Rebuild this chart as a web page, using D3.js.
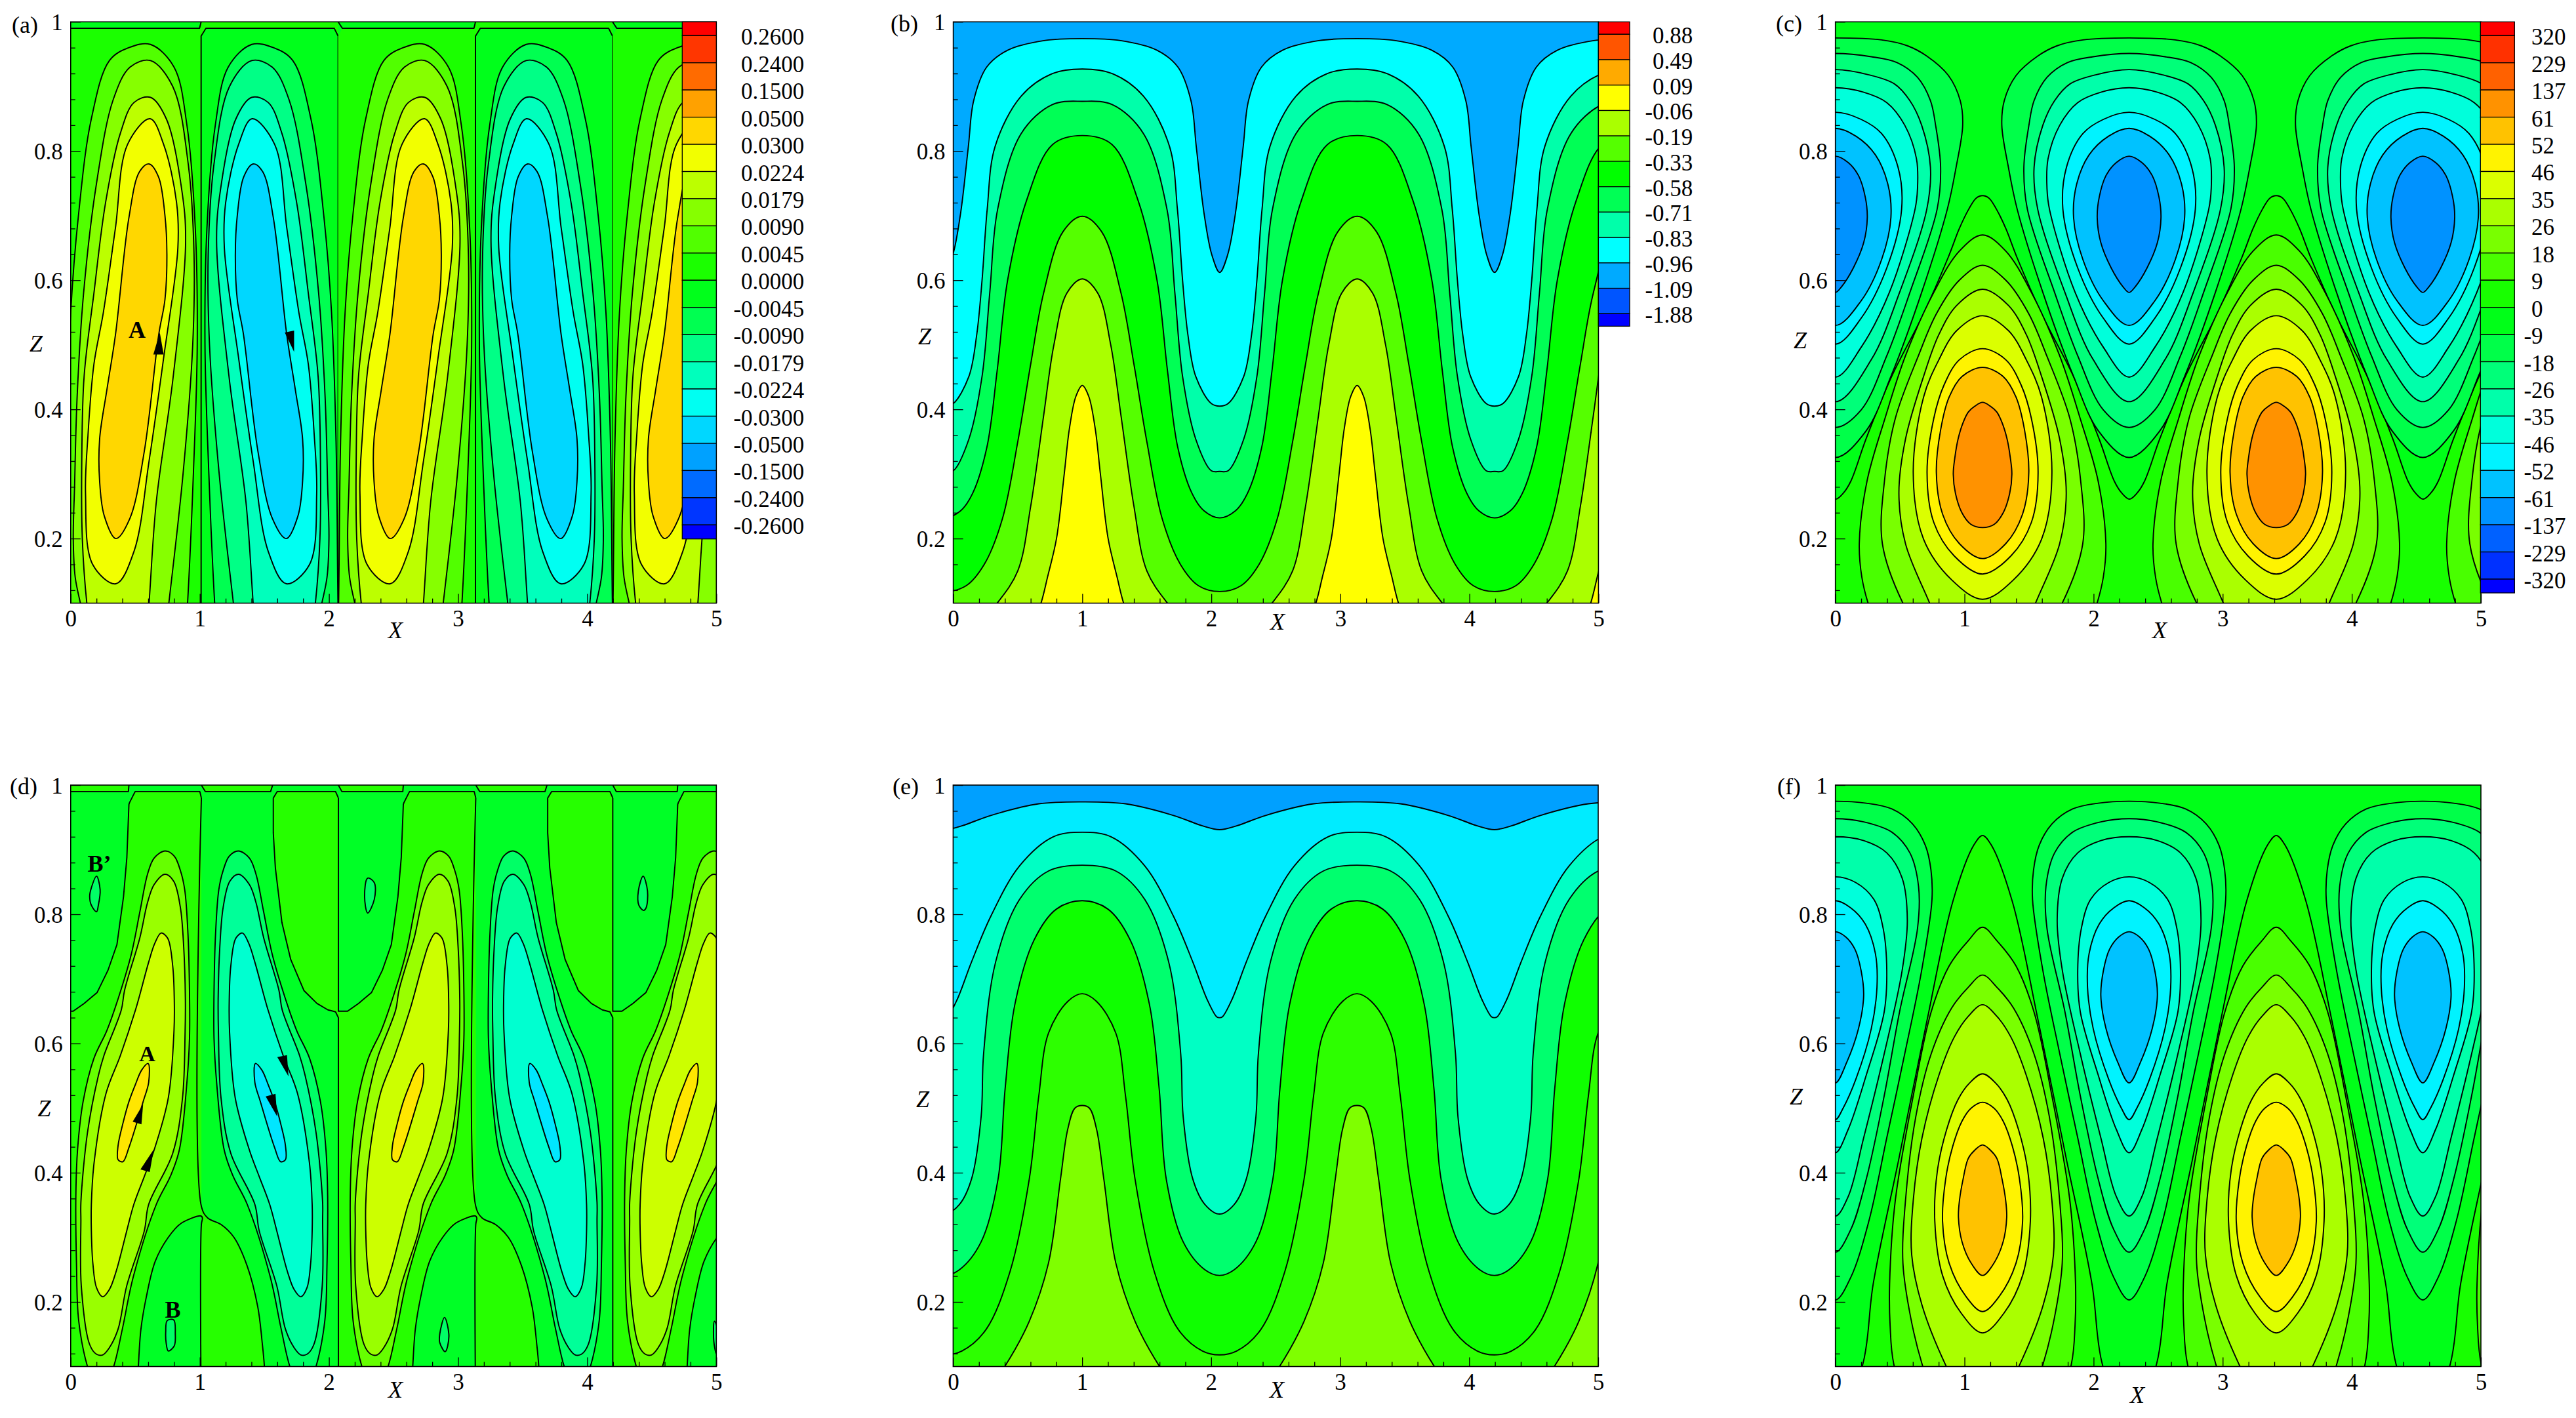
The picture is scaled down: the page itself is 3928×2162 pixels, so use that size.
<!DOCTYPE html>
<html>
<head>
<meta charset="utf-8">
<script src="https://cdn.jsdelivr.net/npm/d3@7"></script>
<style>
  body { margin: 0; background: #fff; }
  text { font-family: "Liberation Serif", serif; fill: #000; }
</style>
</head>
<body>
<svg id="chart" width="3928" height="2162"></svg>
<script>
// axis ticks
const xTicks = [0, 1, 2, 3, 4, 5];
const zTicks = [0.2, 0.4, 0.6, 0.8, 1];

// legend levels
const levelsA = ["0.2600","0.2400","0.1500","0.0500","0.0300","0.0224","0.0179","0.0090","0.0045","0.0000","-0.0045","-0.0090","-0.0179","-0.0224","-0.0300","-0.0500","-0.1500","-0.2400","-0.2600"];
const levelsB = ["0.88","0.49","0.09","-0.06","-0.19","-0.33","-0.58","-0.71","-0.83","-0.96","-1.09","-1.88"];
const levelsC = ["320","229","137","61","52","46","35","26","18","9","0","-9","-18","-26","-35","-46","-52","-61","-137","-229","-320"];

// (a) closed contours of one positive roll [x, z], outermost first
const ringsA = [
  [[.618,.965],[.8,.93],[.9,.84],[.965,.68],[.98,.5],[.95,.3],[.905,.1],[.87,0],[.4,-.1],[-.06,0],[-.05,.1],[-.035,.35],[0,.55],[.06,.7],[.16,.85],[.3,.94],[.45,.96]],
  [[.618,.94],[.79,.9],[.91,.78],[.955,.64],[.945,.5],[.87,.3],[.76,.1],[.7,0],[.35,-.06],[.14,.04],[.075,.1],[.035,.14],[.02,.2],[.03,.28],[.05,.42],[.1,.58],[.2,.75],[.33,.88],[.46,.93]],
  [[.618,.883],[.74,.85],[.86,.74],[.89,.66],[.794,.451],[.663,.257],[.607,.1],[.57,0],[.35,-.06],[.16,.05],[.125,.1],[.09,.2],[.086,.322],[.104,.451],[.18,.58],[.27,.72],[.384,.827],[.49,.875]],
  [[.615,.85],[.72,.81],[.82,.72],[.83,.65],[.72,.48],[.607,.32],[.49,.18],[.35,.13],[.17,.16],[.115,.27],[.134,.36],[.18,.47],[.253,.55],[.346,.68],[.44,.81]],
  [[.607,.78],[.68,.76],[.73,.7],[.745,.64],[.73,.57],[.682,.516],[.57,.335],[.458,.231],[.35,.2],[.26,.235],[.224,.289],[.224,.354],[.28,.43],[.347,.516],[.451,.697],[.533,.768]]
];
const ringCellsPosA = [8, 7, 6, 5, 4];
const ringCellsNegA = [11, 12, 13, 14, 15];
const arrowsA = [
  [[.69,.519],[.64,.485],[.72,.485]],
  [[1.73,.489],[1.658,.519],[1.73,.522]]
];

// (b) contour waves, half profile from crest to trough [offset, z], top one first
const wavesB = [
  [[0,.974],[.296,.971],[.579,.956],[.741,.93],[.842,.878],[.883,.807],[.943,.704],[1.004,.639],[1.065,.612]],
  [[0,.927],[.231,.92],[.474,.885],[.676,.807],[.737,.71],[.777,.6],[.818,.516],[.879,.451],[1,.409],[1.065,.405]],
  [[0,.877],[.231,.872],[.474,.827],[.656,.71],[.717,.581],[.777,.451],[.879,.354],[1,.305],[1.065,.304]],
  [[0,.824],[.231,.81],[.433,.723],[.579,.6],[.66,.46],[.74,.341],[.85,.27],[.943,.243],[1.065,.232]],
  [[0,.699],[.15,.675],[.3,.58],[.4,.47],[.5,.35],[.62,.23],[.76,.16],[.9,.127],[1.065,.118]],
  [[0,.602],[.12,.58],[.22,.5],[.3,.39],[.4,.25],[.5,.15],[.66,.1],[.85,.06],[1.065,.05]],
  [[0,.437],[.05,.42],[.1,.37],[.14,.3],[.2,.2],[.27,.14],[.32,.1],[.45,.03],[1.065,.02]]
];
const waveCellsB = [9, 8, 7, 6, 5, 4, 3];
const crestsB = [-1.13, 1, 3.13, 5.26];

// (c) half contours of one cell [dx, z]
const waveC = [[0,.731],[.05,.727],[.107,.71],[.18,.68],[.267,.635],[.465,.545],[.704,.451],[.903,.354],[1.02,.289],[1.08,.27],[1.1375,.261]];
const loopsPosC = [
  [[0,.67],[.18,.645],[.378,.581],[.597,.483],[.756,.386],[.895,.289],[.955,.192],[.935,.14],[.887,.1],[.7,0],[0,-.05]],
  [[0,.623],[.18,.6],[.358,.548],[.497,.483],[.676,.386],[.76,.289],[.776,.192],[.617,.1],[.3,0],[0,-.05]],
  [[0,.586],[.2,.561],[.338,.516],[.457,.451],[.597,.354],[.648,.27],[.597,.192],[.41,.1],[.2,0],[0,-.05]],
  [[0,.545],[.2,.522],[.338,.477],[.457,.419],[.537,.302],[.457,.199],[.239,.136],[0,.106]],
  [[0,.494],[.179,.477],[.298,.438],[.378,.386],[.43,.302],[.378,.225],[.219,.173],[0,.145]],
  [[0,.465],[.159,.451],[.259,.419],[.326,.367],[.358,.302],[.31,.238],[.179,.192],[0,.169]],
  [[0,.411],[.06,.405],[.11,.396],[.15,.38],[.19,.354],[.215,.325],[.227,.3],[.21,.27],[.16,.24],[.09,.222],[0,.217]]
];
const loopsNegC = [
  [[0,.975],[.358,.972],[.557,.963],[.708,.947],[.875,.917],[.967,.878],[.986,.84],[.935,.775],[.867,.71],[.668,.581],[.43,.451],[.239,.367],[0,.3256]],
  [[0,.951],[.278,.946],[.477,.937],[.636,.914],[.736,.878],[.776,.84],[.815,.775],[.788,.71],[.577,.581],[.398,.483],[.199,.399],[0,.372]],
  [[0,.926],[.259,.918],[.457,.904],[.577,.878],[.668,.84],[.736,.775],[.708,.71],[.497,.581],[.278,.477],[0,.412]],
  [[0,.898],[.219,.891],[.398,.875],[.537,.84],[.628,.788],[.636,.742],[.617,.71],[.418,.581],[.199,.496],[0,.45]],
  [[0,.86],[.199,.849],[.358,.827],[.485,.775],[.513,.71],[.398,.619],[.199,.541],[0,.501]],
  [[0,.835],[.159,.823],[.31,.794],[.406,.749],[.43,.697],[.358,.632],[.199,.568],[0,.53]],
  [[0,.792],[.1,.782],[.179,.762],[.231,.729],[.247,.697],[.219,.658],[.139,.619],[.048,.59],[0,.581]]
];
const loopCellsPosC = [9, 8, 7, 6, 5, 4, 3];
const loopCellsNegC = [12, 13, 14, 15, 16, 17, 18];

// (d) zero level lines of one period
const bayArcD = [[1.012,.98],[1,.99],[.499,.99],[.456,.973],[.451,.97],[.435,.888],[.409,.827],[.358,.753],[.288,.713],[.205,.679],[.104,.662],[.019,.65],[-.052,.65],[-.052,.98]];
const stripTopD = [[-.052,1],[-.025,.99],[.447,.99],[.451,1]];
const stripBoxD = [[1.012,1],[1.042,.99],[1.548,.99],[1.564,1]];
const arcLowLeftD = [[1.012,0],[1.012,.32],[1.02,.33],[1.01,.333],[.858,.322],[.756,.3],[.655,.263],[.586,.208],[.544,.158],[.524,.1],[.5,0]];
const arcLowRightD = [[1.012,.348],[1.061,.33],[1.163,.32],[1.264,.3],[1.366,.256],[1.449,.192],[1.484,.135],[1.5,.1],[1.52,0]];
const boxRightD = [[2.073,.64],[2.051,.649],[1.992,.652],[1.907,.662],[1.806,.682],[1.704,.73],[1.636,.787],[1.585,.872],[1.569,.926],[1.569,.98],[1.6,.99],[2.051,.99],[2.073,.98]];
// (d) closed contours of one positive roll, outermost first
const ringsD = [
  [[.731,.898],[.802,.89],[.849,.868],[.883,.838],[.908,.77],[.92,.68],[.92,.608],[.9,.54],[.841,.435],[.773,.395],[.663,.351],[.485,.239],[.4,.158],[.333,.1],[.23,.05],[.13,.1],[.062,.171],[.045,.259],[.04,.364],[.053,.435],[.096,.51],[.18,.577],[.28,.62],[.367,.669],[.468,.737],[.536,.804],[.595,.862],[.646,.887]],
  [[.731,.862],[.798,.851],[.849,.811],[.875,.75],[.888,.669],[.886,.618],[.866,.516],[.79,.43],[.604,.351],[.57,.31],[.434,.225],[.367,.158],[.299,.129],[.248,.118],[.2,.119],[.147,.134],[.082,.225],[.079,.327],[.079,.354],[.13,.462],[.214,.55],[.257,.581],[.392,.652],[.417,.682],[.536,.764],[.595,.818],[.646,.846]],
  [[.7,.771],[.751,.763],[.79,.72],[.802,.669],[.8,.62],[.756,.516],[.646,.435],[.57,.394],[.489,.351],[.434,.31],[.35,.246],[.299,.219],[.248,.208],[.2,.222],[.172,.259],[.16,.31],[.16,.351],[.181,.415],[.274,.523],[.384,.581],[.502,.652],[.536,.676],[.604,.726],[.651,.755]],
  [[.6,.569],[.604,.54],[.561,.51],[.451,.439],[.404,.417],[.367,.42],[.367,.442],[.404,.476],[.451,.51],[.502,.537],[.55,.559]]
];
const islandsD = [
  [[.2,.859],[.228,.838],[.214,.814],[.2,.804],[.16,.814],[.147,.828],[.16,.841]],
  [[2.3,.856],[2.351,.849],[2.351,.823],[2.3,.802],[2.276,.828]],
  [[4.433,.859],[4.467,.836],[4.456,.81],[4.437,.806],[4.4,.814],[4.396,.836]],
  [[.747,.171],[.798,.172],[.81,.151],[.802,.132],[.756,.124],[.739,.137],[.736,.154]],
  [[2.895,.176],[2.929,.147],[2.9,.123],[2.858,.137],[2.858,.15]],
  [[4.985,.17],[5.02,.15],[5,.12],[4.98,.14]]
];
const arrowsD = [
  [[.561,.506],[.48,.479],[.548,.475]],
  [[.643,.436],[.54,.405],[.612,.401]],
  [[1.687,.549],[1.6,.579],[1.675,.582]],
  [[1.599,.487],[1.51,.518],[1.586,.522]]
];

// (e) contour waves, half profile from crest to trough
const wavesE = [
  [[0,.974],[.336,.971],[.708,.953],[.932,.937],[1.065,.931]],
  [[0,.927],[.224,.92],[.485,.875],[.708,.797],[.858,.726],[.969,.668],[1.044,.641],[1.065,.64]],
  [[0,.876],[.261,.867],[.485,.823],[.671,.726],[.764,.584],[.783,.487],[.858,.39],[.951,.351],[1.065,.336]],
  [[0,.821],[.2,.808],[.373,.76],[.522,.66],[.597,.53],[.652,.39],[.783,.293],[.95,.25],[1.065,.241]],
  [[0,.677],[.112,.665],[.261,.616],[.336,.519],[.41,.39],[.559,.247],[.746,.157],[.932,.124],[1.065,.118]],
  [[0,.504],[.056,.5],[.112,.467],[.168,.39],[.261,.26],[.41,.17],[.6,.1],[.858,.03],[1.065,0]]
];
const crestsE = [-1.13, 1, 3.13, 5.26];

// (f) half contours of one cell
const waveF = [[0,.922],[.068,.907],[.23,.82],[.43,.636],[.648,.422],[.847,.228],[.927,.104],[1.1375,0]];
const loopsPosF = [
  [[0,.78],[.111,.759],[.259,.72],[.398,.649],[.537,.519],[.676,.357],[.72,.228],[.716,.163],[.688,.104],[.517,0],[0,-.05]],
  [[0,.706],[.111,.687],[.239,.655],[.398,.584],[.517,.487],[.597,.357],[.617,.26],[.557,.176],[.469,.104],[.28,0],[0,-.05]],
  [[0,.66],[.111,.642],[.219,.61],[.338,.551],[.469,.454],[.537,.357],[.549,.273],[.469,.195],[.29,.104],[.1,.034],[0,0]],
  [[0,.553],[.1,.539],[.191,.513],[.278,.467],[.35,.403],[.37,.325],[.31,.241],[.167,.183],[0,.152]],
  [[0,.509],[.088,.5],[.159,.48],[.231,.441],[.286,.39],[.31,.325],[.259,.26],[.127,.208],[0,.185]],
  [[0,.443],[.06,.435],[.111,.422],[.151,.39],[.179,.357],[.187,.331],[.159,.293],[.088,.26],[0,.241]]
];
const loopsNegF = [
  [[0,.975],[.239,.972],[.438,.963],[.597,.94],[.696,.907],[.74,.869],[.748,.823],[.668,.713],[.537,.584],[.398,.454],[.259,.325],[.119,.238],[0,.203]],
  [[0,.948],[.219,.943],[.438,.927],[.577,.895],[.644,.843],[.636,.778],[.497,.649],[.378,.519],[.239,.39],[.119,.312],[0,.277]],
  [[0,.92],[.219,.914],[.398,.895],[.517,.856],[.557,.791],[.517,.713],[.378,.584],[.219,.454],[.099,.363],[0,.333]],
  [[0,.858],[.159,.849],[.298,.823],[.37,.778],[.398,.713],[.378,.649],[.239,.551],[.099,.467],[0,.431]],
  [[0,.821],[.119,.81],[.231,.785],[.31,.739],[.322,.687],[.278,.623],[.159,.545],[.06,.5],[0,.482]],
  [[0,.773],[.08,.765],[.151,.746],[.199,.713],[.219,.674],[.179,.623],[.088,.571],[0,.539]]
];
const loopCellsPosF = [9, 8, 7, 6, 5, 4];
const loopCellsNegF = [12, 13, 14, 15, 16, 17];

// band colours of the panels without a colour bar
const colorsE = ["#00a0ff","#00ecff","#00ffc4","#00ff6e","#0fff00","#2dff00","#7fff00"];
const posColorsD = ["#66ff00","#99ff00","#ccff00","#ffe600"];
const negColorsD = ["#00ff66","#00ff99","#00ffd0","#00e6ff"];
const zeroPosD = "#26ff00", zeroNegD = "#00ff26";

const rainbowStops = d3.scaleLinear().domain([0, 1, 2, 3, 4]).range(["#ff0000", "#ffff00", "#00ff00", "#00ffff", "#0000ff"]);
function rainbow(n) {
  return d3.range(n).map(i => rainbowStops(i / (n - 1) * 4));
}
const paletteA = rainbow(20), paletteB = rainbow(13), paletteC = rainbow(22);

const svg = d3.select("#chart");
const contourWidth = 1.9;

function makePanel(p) {
  const x = d3.scaleLinear().domain([0, 5]).range([p.left, p.right]);
  const z = d3.scaleLinear().domain([0.1, 1]).range([p.bottom, p.top]);
  const clipId = "clip-" + p.id;
  svg.append("clipPath").attr("id", clipId).append("rect")
    .attr("x", p.left).attr("y", p.top).attr("width", p.right - p.left).attr("height", p.bottom - p.top);
  const plot = svg.append("g").attr("clip-path", "url(#" + clipId + ")");
  return {
    x, z, plot,
    smooth: d3.line().x(d => x(d[0])).y(d => z(d[1])).curve(d3.curveCatmullRomClosed.alpha(0.5)),
    straight: d3.line().x(d => x(d[0])).y(d => z(d[1])).curve(d3.curveLinearClosed),
    open: d3.line().x(d => x(d[0])).y(d => z(d[1])).curve(d3.curveCatmullRom.alpha(0.5)),
    openStraight: d3.line().x(d => x(d[0])).y(d => z(d[1]))
  };
}

function fillBack(P, color) {
  P.plot.append("rect").attr("x", P.x(0)).attr("y", P.z(1))
    .attr("width", P.x(5) - P.x(0)).attr("height", P.z(0.1) - P.z(1)).attr("fill", color);
}
function closedShape(P, pts, color, line) {
  P.plot.append("path").attr("d", (line || P.smooth)(pts)).attr("fill", color)
    .attr("stroke", "#000").attr("stroke-width", contourWidth).attr("stroke-linejoin", "round");
}
function fillOnly(P, pts, color, line) {
  P.plot.append("path").attr("d", (line || P.smooth)(pts)).attr("fill", color);
}
function lineOnly(P, pts, line) {
  P.plot.append("path").attr("d", (line || P.open)(pts)).attr("fill", "none")
    .attr("stroke", "#000").attr("stroke-width", contourWidth).attr("stroke-linejoin", "round");
}
const moved = (pts, dx) => pts.map(d => [d[0] + dx, d[1]]);
const flipped = (pts, c) => pts.map(d => [c - d[0], d[1]]);
// mirror a half contour about the cell centre
function wholeLoop(half, centre) {
  const right = half.map(d => [centre + d[0], d[1]]);
  const left = half.slice(1, -1).reverse().map(d => [centre - d[0], d[1]]);
  return right.concat(left);
}
// repeat a crest to trough profile along x and close it far below the plot
function wavePolygon(half, crests) {
  let pts = [];
  crests.forEach((c, i) => {
    const rising = half.slice().reverse().map(d => [c - d[0], d[1]]);
    pts = pts.concat(i ? rising.slice(1) : rising, half.slice(1).map(d => [c + d[0], d[1]]));
  });
  pts.push([pts[pts.length - 1][0], -1], [pts[0][0], -1]);
  return pts;
}
function arrowHeads(P, list) {
  list.forEach(a => P.plot.append("path").attr("d", P.straight(a)).attr("fill", "#000"));
}
function tag(P, text, xv, zv, size, anchor) {
  P.plot.append("text").attr("x", P.x(xv)).attr("y", P.z(zv))
    .attr("font-size", size).attr("font-weight", "bold").attr("text-anchor", anchor || "start").text(text);
}

function drawAxes(P, p) {
  const xMinor = d3.range(0, 5.001, 0.2).filter(d => Math.abs(d - Math.round(d)) > 0.01);
  const zMinor = d3.range(0.12, 1, 0.04).filter(d => Math.abs(d * 5 - Math.round(d * 5)) > 0.01);
  svg.append("g").attr("transform", "translate(0," + p.bottom + ")")
    .call(d3.axisBottom(P.x).tickValues(xMinor).tickSize(-7).tickFormat(""))
    .call(g => g.select(".domain").remove())
    .selectAll("line").attr("stroke-width", 1.3);
  svg.append("g").attr("transform", "translate(0," + p.bottom + ")")
    .call(d3.axisBottom(P.x).tickValues(xTicks).tickSize(-14).tickFormat(d3.format("d")))
    .call(g => g.select(".domain").remove())
    .call(g => g.selectAll("line").attr("stroke-width", 1.3))
    .call(g => g.selectAll("text").attr("y", 35).attr("dy", null).attr("font-size", 35)
      .attr("font-family", "Liberation Serif").attr("fill", "#000"));
  svg.append("g").attr("transform", "translate(" + p.left + ",0)")
    .call(d3.axisLeft(P.z).tickValues(zMinor).tickSize(-7).tickFormat(""))
    .call(g => g.select(".domain").remove())
    .selectAll("line").attr("stroke-width", 1.3);
  svg.append("g").attr("transform", "translate(" + p.left + ",0)")
    .call(d3.axisLeft(P.z).tickValues(zTicks).tickSize(-15).tickFormat(d => String(d)))
    .call(g => g.select(".domain").remove())
    .call(g => g.selectAll("line").attr("stroke-width", 1.3))
    .call(g => g.selectAll("text").attr("x", -12).attr("dy", null).attr("y", 12).attr("font-size", 35)
      .attr("font-family", "Liberation Serif").attr("fill", "#000"));
  svg.append("rect").attr("x", p.left).attr("y", p.top).attr("width", p.right - p.left).attr("height", p.bottom - p.top)
    .attr("fill", "none").attr("stroke", "#000").attr("stroke-width", 1.6);
  svg.append("text").attr("x", p.xLabel[0]).attr("y", p.xLabel[1]).attr("font-size", 36).attr("font-style", "italic").attr("text-anchor", "middle").text("X");
  svg.append("text").attr("x", p.zLabel[0]).attr("y", p.zLabel[1]).attr("font-size", 36).attr("font-style", "italic").attr("text-anchor", "middle").text("Z");
  svg.append("text").attr("x", p.tagPos[0]).attr("y", p.tagPos[1]).attr("font-size", 36).text("(" + p.id + ")");
}

function drawLegend(l) {
  const n = l.levels.length;
  const y = d3.scaleLinear().domain([0, n - 1]).range([l.first, l.last]);
  const g = svg.append("g");
  l.colors.forEach((c, i) => {
    const y0 = i === 0 ? l.top : y(i - 1);
    const y1 = i === n ? l.end : y(i);
    g.append("rect").attr("x", l.x0).attr("y", y0).attr("width", l.x1 - l.x0).attr("height", y1 - y0)
      .attr("fill", c).attr("stroke", "#000").attr("stroke-width", 1.3);
  });
  l.levels.forEach((t, i) => {
    g.append("text").attr("x", l.textX - (t[0] === "-" ? 11.6 : 0)).attr("y", y(i) + 14)
      .attr("font-size", 35).text(t);
  });
}

const frameA = { id: "a", left: 107.8, right: 1092.3, top: 33.3, bottom: 919.6, xLabel: [603, 973], zLabel: [55, 536], tagPos: [18, 50] };
const frameB = { id: "b", left: 1453.6, right: 2437.4, top: 33.3, bottom: 919.6, xLabel: [1948, 960], zLabel: [1410, 525], tagPos: [1358, 48] };
const frameC = { id: "c", left: 2798.7, right: 3783, top: 33.3, bottom: 919.6, xLabel: [3293, 973], zLabel: [2745, 531], tagPos: [2708, 48] };
const frameD = { id: "d", left: 107.8, right: 1092.3, top: 1197, bottom: 2083.5, xLabel: [603, 2131], zLabel: [67.5, 1702], tagPos: [15, 1211] };
const frameE = { id: "e", left: 1453.4, right: 2437, top: 1197, bottom: 2083.5, xLabel: [1947, 2131], zLabel: [1407, 1688], tagPos: [1361, 1211] };
const frameF = { id: "f", left: 2798.7, right: 3783, top: 1197, bottom: 2083.5, xLabel: [3259, 2139], zLabel: [2739, 1684], tagPos: [2710, 1211] };

// (a)
(function () {
  const P = makePanel(frameA), step = 2.125, xl = -.054, xr = 1.01, c = 2.02;
  fillBack(P, paletteA[10]);
  d3.range(-1, 3).forEach(k => {
    const dx = k * step;
    fillOnly(P, moved([[xl,0],[xl,.978],[xl+.033,.99],[xr-.012,.99],[xr,1],[xl+step,1],[xl+step,.978],[xl+step-.03,.99],[xr+.037,.99],[xr,.978],[xr,0]], dx), paletteA[9], P.straight);
    lineOnly(P, moved([[xr,0],[xr,.978],[xr+.037,.99],[xl+step-.03,.99],[xl+step,.978],[xl+step,0]], dx), P.openStraight);
    lineOnly(P, moved([[xl,1],[xl+.033,.99],[xr-.012,.99],[xr,1]], dx), P.openStraight);
  });
  ringsA.forEach((ring, i) => {
    d3.range(-1, 3).forEach(k => {
      closedShape(P, moved(ring, k * step), paletteA[ringCellsPosA[i]]);
      closedShape(P, moved(flipped(ring, c), k * step), paletteA[ringCellsNegA[i]]);
    });
  });
  arrowHeads(P, arrowsA);
  tag(P, "A", .514, .511, 36, "middle");
  drawAxes(P, frameA);
  drawLegend({ levels: levelsA, colors: paletteA, x0: 1040.3, x1: 1092.3, top: 33.3, first: 54.3, last: 800.3, end: 821.7, textX: 1130 });
})();

// (b)
(function () {
  const P = makePanel(frameB);
  fillBack(P, paletteB[10]);
  wavesB.forEach((w, i) => closedShape(P, wavePolygon(w, crestsB), paletteB[waveCellsB[i]]));
  drawAxes(P, frameB);
  drawLegend({ levels: levelsB, colors: paletteB, x0: 2437.4, x1: 2485, top: 33.3, first: 52.3, last: 478.3, end: 497.4, textX: 2520 });
})();

function drawCells(frame, wave, loopsPos, loopsNeg, cellsPos, cellsNeg) {
  const P = makePanel(frame);
  fillBack(P, paletteC[11]);
  closedShape(P, wavePolygon(wave, [-1.135, 1.14, 3.415, 5.69]), paletteC[10]);
  loopsPos.forEach((h, i) => [-1.135, 1.14, 3.415, 5.69].forEach(c => closedShape(P, wholeLoop(h, c), paletteC[cellsPos[i]])));
  loopsNeg.forEach((h, i) => [0, 2.275, 4.55].forEach(c => closedShape(P, wholeLoop(h, c), paletteC[cellsNeg[i]])));
  drawAxes(P, frame);
}

// (c)
drawCells(frameC, waveC, loopsPosC, loopsNegC, loopCellsPosC, loopCellsNegC);
drawLegend({ levels: levelsC, colors: paletteC, x0: 3782.3, x1: 3834.3, top: 33.3, first: 54.3, last: 883, end: 904, textX: 3860 });

// (d)
(function () {
  const P = makePanel(frameD), step = 2.125, c = 2.03;
  fillBack(P, zeroNegD);
  d3.range(-1, 3).forEach(k => {
    const dx = k * step;
    fillOnly(P, moved([[-.052,0],[-.052,1],[1.012,1],[1.012,0]], dx), zeroPosD, P.straight);
    fillOnly(P, moved(bayArcD.concat(stripTopD, [[1.012,1]]), dx), zeroNegD, P.straight);
    fillOnly(P, moved(arcLowLeftD, dx), zeroNegD, P.straight);
    fillOnly(P, moved(arcLowRightD.concat([[1.012,0]]), dx), zeroPosD, P.straight);
    fillOnly(P, moved(boxRightD, dx), zeroPosD, P.straight);
    fillOnly(P, moved(stripBoxD, dx), zeroPosD, P.straight);
  });
  d3.range(-1, 3).forEach(k => {
    const dx = k * step;
    lineOnly(P, moved(arcLowLeftD, dx));
    lineOnly(P, moved([[1.012,.98]].concat(arcLowRightD), dx));
    lineOnly(P, moved(bayArcD, dx), P.openStraight);
    lineOnly(P, moved(stripTopD, dx), P.openStraight);
    lineOnly(P, moved(stripBoxD, dx), P.openStraight);
    lineOnly(P, moved([[2.073,0]].concat(boxRightD), dx), P.openStraight);
  });
  ringsD.forEach((ring, i) => {
    d3.range(-1, 3).forEach(k => {
      closedShape(P, moved(ring, k * step), posColorsD[i]);
      closedShape(P, moved(flipped(ring, c), k * step), negColorsD[i]);
    });
  });
  islandsD.forEach(s => closedShape(P, s, "#00ff66"));
  arrowHeads(P, arrowsD);
  tag(P, "A", .593, .573, 34, "middle");
  tag(P, "B’", .13, .866, 36);
  tag(P, "B", .73, .176, 36);
  drawAxes(P, frameD);
})();

// (e)
(function () {
  const P = makePanel(frameE);
  fillBack(P, colorsE[0]);
  wavesE.forEach((w, i) => closedShape(P, wavePolygon(w, crestsE), colorsE[i + 1]));
  drawAxes(P, frameE);
})();

// (f)
drawCells(frameF, waveF, loopsPosF, loopsNegF, loopCellsPosF, loopCellsNegF);
</script>
</body>
</html>
